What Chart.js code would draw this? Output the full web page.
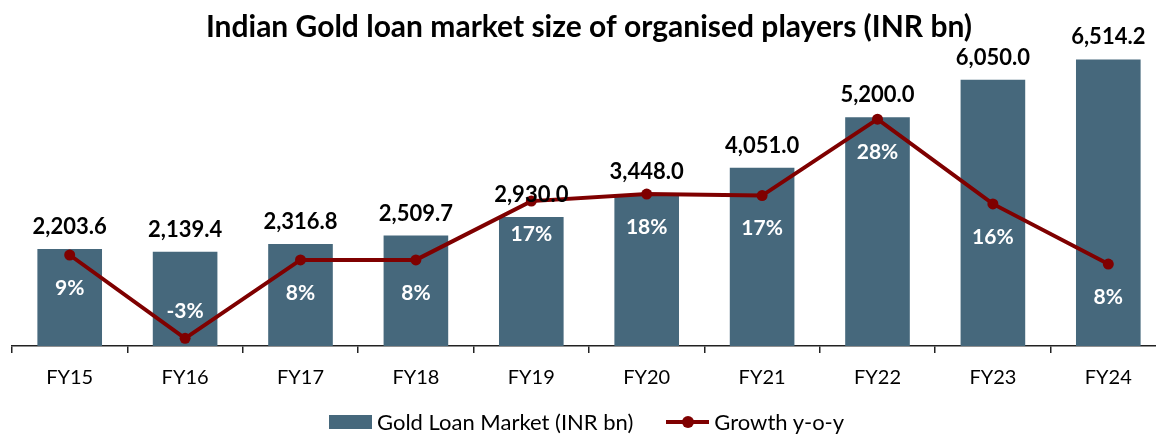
<!DOCTYPE html>
<html lang="en">
<head>
  <meta charset="UTF-8">
  <title>Indian Gold loan market size of organised players</title>
  <script src="https://cdn.jsdelivr.net/npm/chart.js"></script>
  <style>
    body {
      margin: 0;
      padding: 0;
      overflow: hidden;
      background: #fff;
      font-family: Lato, sans-serif;
    }

    .wrap {
      position: relative;
      width: 1190px;
      height: 437px;
    }

    .legend {
      position: absolute;
      left: 329px;
      top: 408px;
      display: flex;
      align-items: center;
      font-size: 22px;
      color: #000;
    }

    .swatch {
      width: 43px;
      height: 14px;
      background: #46687c;
      margin-right: 5px;
    }

    .lineKey {
      position: relative;
      width: 43px;
      height: 4px;
      background: #7f0000;
      margin-left: 33px;
      margin-right: 5px;
    }

    .lineKey::after {
      content: "";
      position: absolute;
      left: 16px;
      top: -4px;
      width: 12px;
      height: 12px;
      border-radius: 50%;
      background: #7f0000;
    }
  </style>
</head>
<body>
  <div class="wrap">
    <canvas id="goldChart"></canvas>
    <div class="legend">
      <span class="swatch"></span><span>Gold Loan Market (INR bn)</span>
      <span class="lineKey"></span><span>Growth y-o-y</span>
    </div>
  </div>

  <script>
    const years = ["FY15", "FY16", "FY17", "FY18", "FY19", "FY20", "FY21", "FY22", "FY23", "FY24"];
    const marketSize = [2203.6, 2139.4, 2316.8, 2509.7, 2930.0, 3448.0, 4051.0, 5200.0, 6050.0, 6514.2];
    const growth = [9.0, -2.9, 8.3, 8.3, 16.7, 17.7, 17.49, 28.4, 16.3, 7.7];

    const barColor = "#46687c";
    const lineColor = "#7f0000";
    const fontName = "Lato";

    const fmt = v => v.toLocaleString("en-US", { minimumFractionDigits: 1, maximumFractionDigits: 1 });

    // data labels: values above bars, growth in white under the points
    const dataLabels = {
      id: "dataLabels",
      afterDatasetsDraw(chart) {
        const ctx = chart.ctx;
        ctx.save();
        ctx.textAlign = "center";
        ctx.textBaseline = "middle";
        ctx.font = "bold 22px " + fontName;
        ctx.fillStyle = "#000";
        chart.getDatasetMeta(0).data.forEach((el, i) => {
          ctx.fillText(fmt(marketSize[i]), el.x, el.y - 22);
        });
        ctx.font = "bold 21px " + fontName;
        ctx.fillStyle = "#fff";
        chart.getDatasetMeta(1).data.forEach((el, i) => {
          const g = growth[i];
          ctx.fillText(Math.round(g) + "%", el.x, g < 0 ? el.y - 27 : el.y + 33);
        });
        ctx.restore();
      }
    };

    new Chart(document.getElementById("goldChart"), {
      data: {
        labels: years,
        datasets: [
          {
            type: "bar",
            label: "Gold Loan Market (INR bn)",
            data: marketSize,
            yAxisID: "y",
            backgroundColor: barColor,
            categoryPercentage: 1,
            barPercentage: 0.56,
            order: 1
          },
          {
            type: "line",
            label: "Growth y-o-y",
            data: growth,
            yAxisID: "y2",
            borderColor: lineColor,
            backgroundColor: lineColor,
            borderWidth: 4,
            pointRadius: 5.5,
            pointBackgroundColor: lineColor,
            pointBorderWidth: 0,
            tension: 0,
            order: 0
          }
        ]
      },
      options: {
        responsive: true,
        maintainAspectRatio: false,
        animation: false,
        layout: { padding: { left: 12, right: 24, top: 0, bottom: 34 } },
        scales: {
          x: {
            grid: { drawOnChartArea: false, drawTicks: true, tickLength: 7, color: "#222", lineWidth: 1.5 },
            border: { color: "#222", width: 1.5 },
            ticks: { color: "#000", font: { family: fontName, size: 20 }, padding: 13 }
          },
          y: { display: false, min: 0, max: 7000 },
          y2: { display: false, min: -4, max: 40 }
        },
        plugins: {
          legend: { display: false },
          tooltip: { enabled: false },
          title: {
            display: true,
            text: "Indian Gold loan market size of organised players (INR bn)",
            color: "#000",
            font: { family: fontName, size: 30, weight: "bold" },
            padding: { top: 9, bottom: -7 }
          }
        }
      },
      plugins: [dataLabels]
    });
  </script>
</body>
</html>
